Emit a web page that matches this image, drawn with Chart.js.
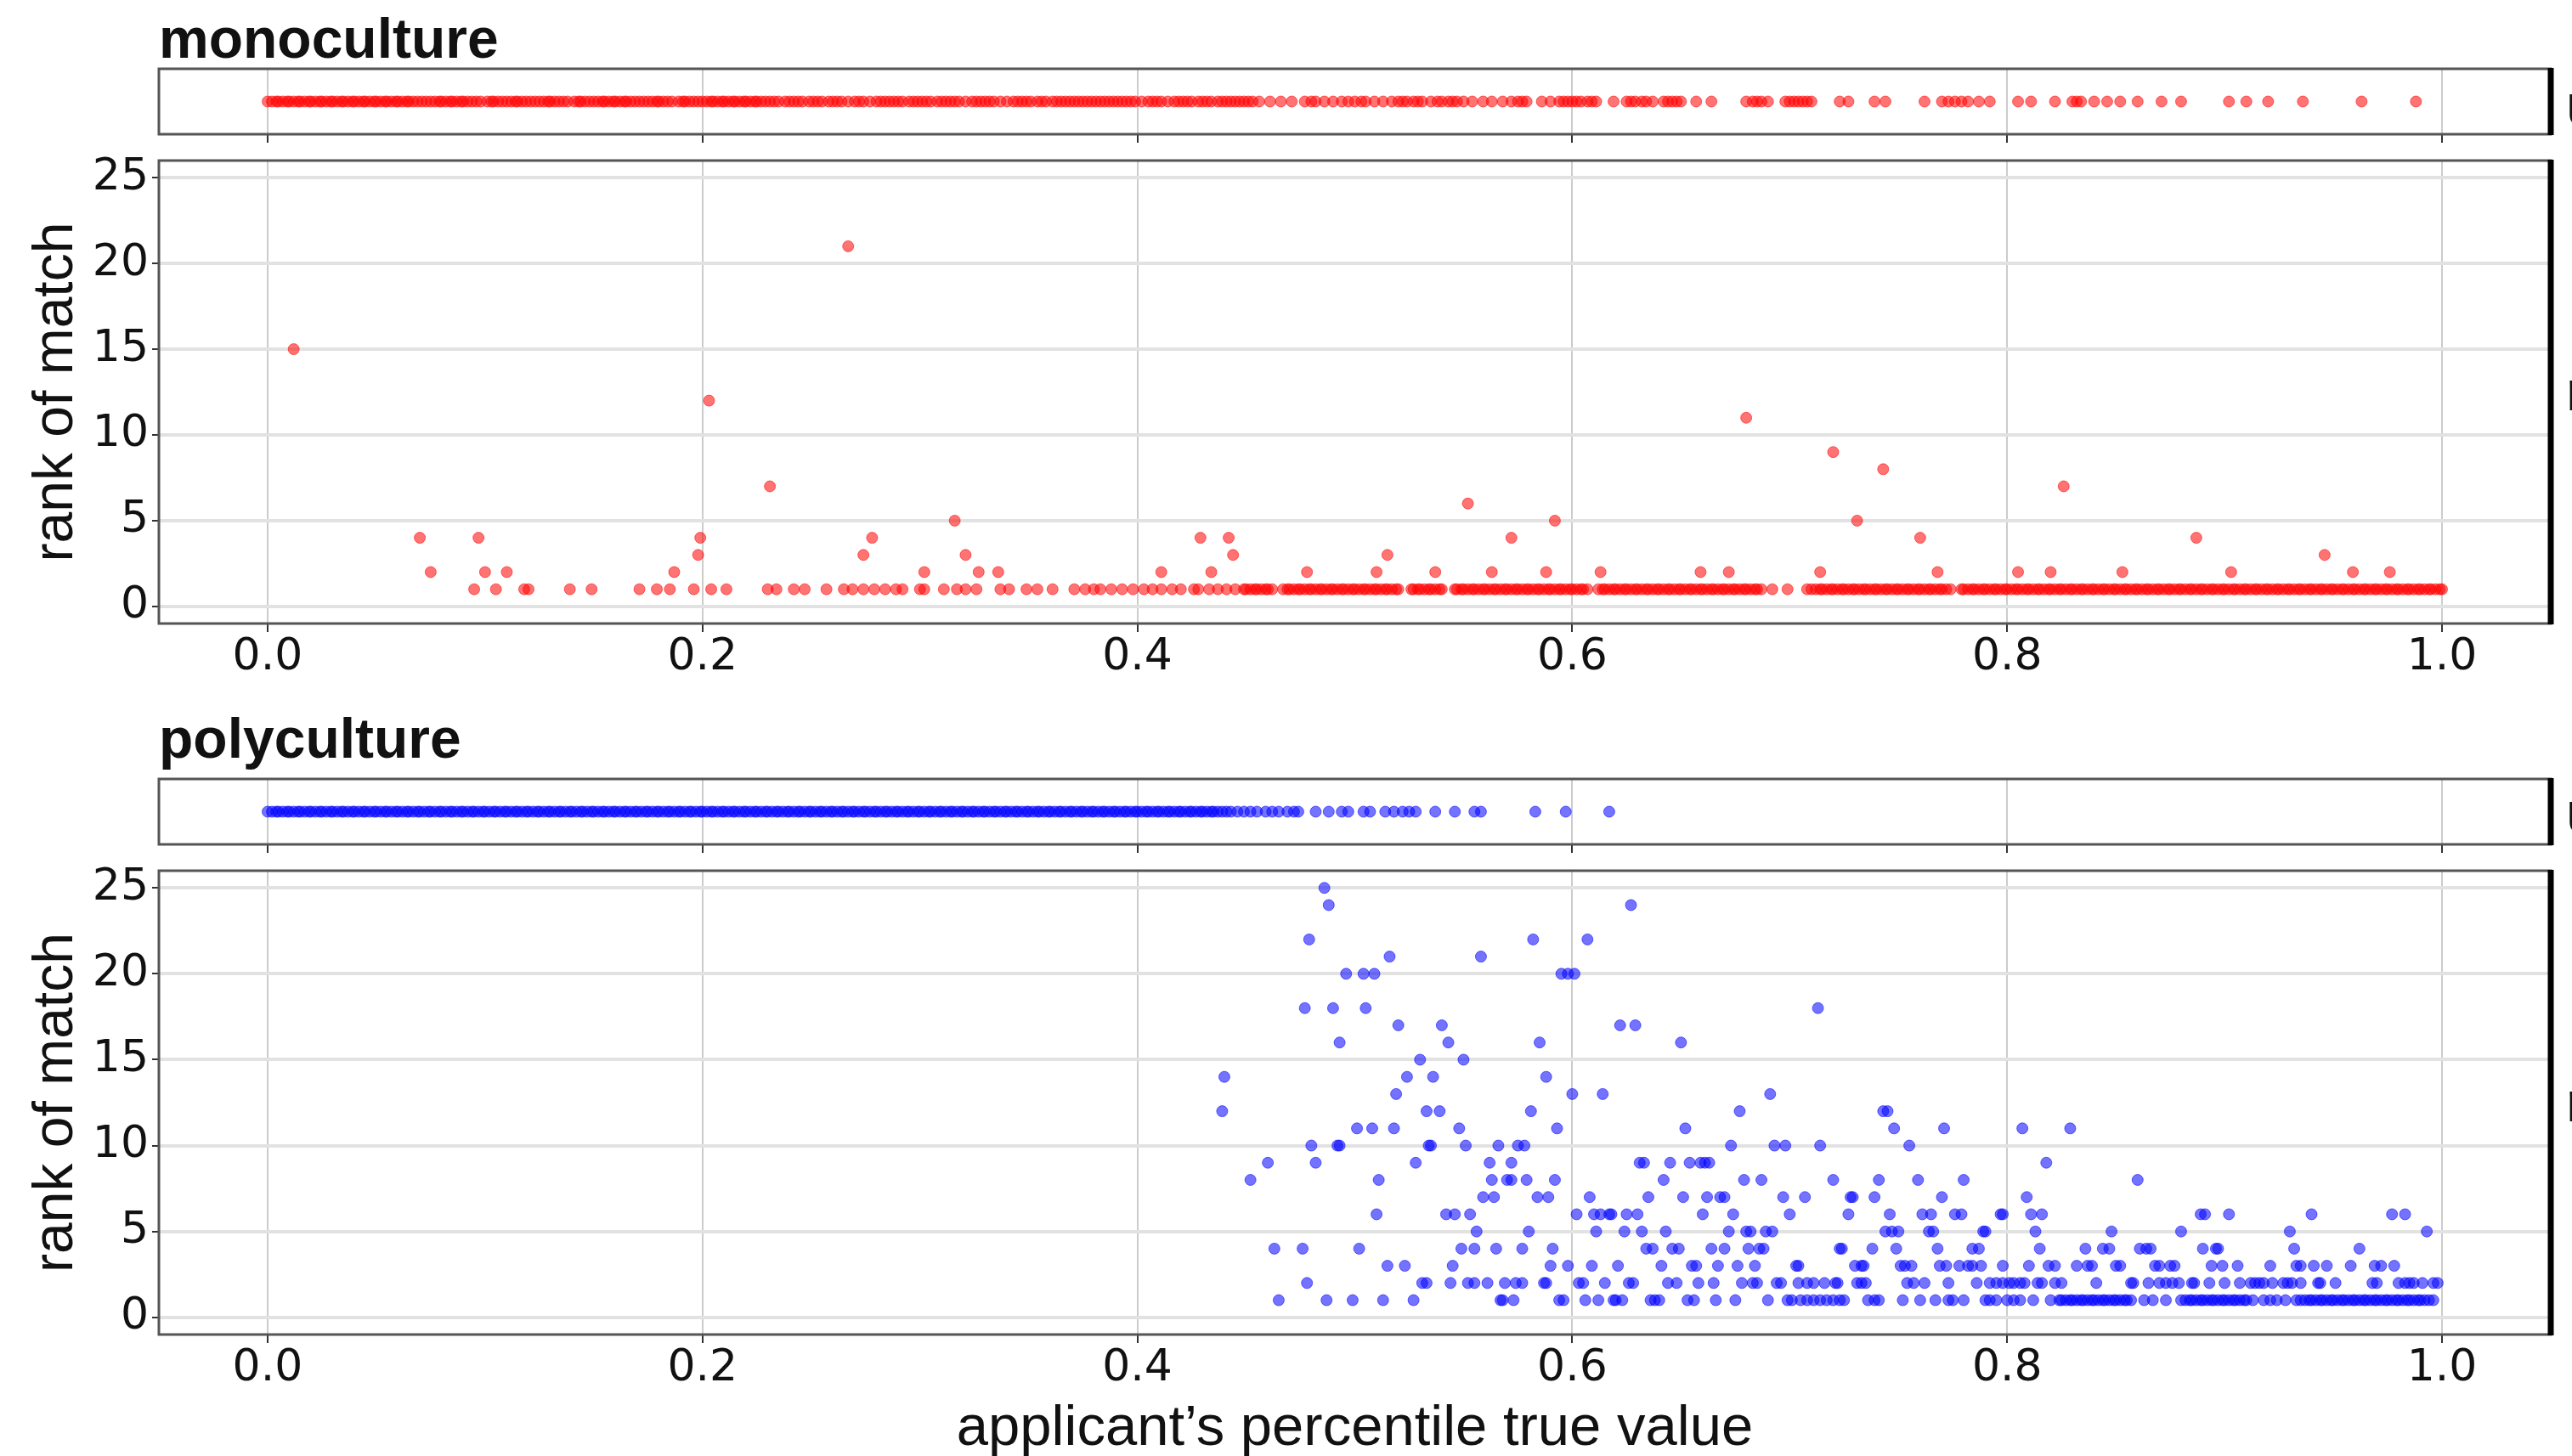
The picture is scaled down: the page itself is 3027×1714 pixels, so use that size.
<!DOCTYPE html>
<html>
<head>
<meta charset="utf-8">
<script src="https://cdn.jsdelivr.net/npm/chart.js@4.4.0/dist/chart.umd.min.js"></script>
<style>
    body { margin: 0; width: 3027px; height: 1714px; position: relative; overflow: hidden; background: #fff; font-family: "Liberation Sans", Arial, sans-serif; color: #111; }
    canvas { position: absolute; left: 0; }
    .panel-title { position: absolute; left: 187px; font-weight: bold; font-size: 66px; line-height: 1; }
    .edge { position: absolute; left: 3020px; font-size: 66px; line-height: 1; }
</style>
</head>
<body>
<div class="panel-title" style="top:12px;">monoculture</div>
<div class="panel-title" style="top:836px;">polyculture</div>
<span class="edge" style="top:90px;">u</span>
<span class="edge" style="top:427px;">r</span>
<span class="edge" style="top:923px;">u</span>
<span class="edge" style="top:1264px;">r</span>

<canvas id="mono-strip" width="3027" height="131" style="top:41px;"></canvas>
<canvas id="mono-main" width="3027" height="665" style="top:149px;"></canvas>
<canvas id="poly-strip" width="3027" height="131" style="top:877px;"></canvas>
<canvas id="poly-main" width="3027" height="729" style="top:985px;"></canvas>

<script>
// tick labels
const xTicks = [0.0, 0.2, 0.4, 0.6, 0.8, 1.0];
const rankTicks = [0, 5, 10, 15, 20, 25];

// monoculture: unmatched applicants (strip)
const monoUnmatched = [
    0.000, 0.002, 0.004, 0.005, 0.007, 0.009, 0.010, 0.012, 0.014, 0.015, 0.017, 0.019,
    0.020, 0.022, 0.024, 0.025, 0.027, 0.029, 0.030, 0.032, 0.034, 0.035, 0.037, 0.039,
    0.040, 0.042, 0.044, 0.045, 0.047, 0.049, 0.050, 0.052, 0.054, 0.055, 0.057, 0.059,
    0.060, 0.062, 0.064, 0.065, 0.067, 0.069, 0.071, 0.073, 0.075, 0.077, 0.079, 0.080,
    0.082, 0.084, 0.085, 0.087, 0.089, 0.090, 0.092, 0.094, 0.096, 0.098, 0.101, 0.103,
    0.104, 0.106, 0.108, 0.110, 0.112, 0.114, 0.115, 0.117, 0.119, 0.121, 0.123, 0.125,
    0.127, 0.129, 0.130, 0.132, 0.134, 0.136, 0.138, 0.141, 0.143, 0.144, 0.146, 0.148,
    0.150, 0.152, 0.154, 0.155, 0.157, 0.159, 0.160, 0.162, 0.164, 0.165, 0.167, 0.169,
    0.171, 0.173, 0.175, 0.177, 0.179, 0.180, 0.182, 0.184, 0.186, 0.189, 0.191, 0.192,
    0.194, 0.196, 0.198, 0.200, 0.202, 0.204, 0.205, 0.207, 0.209, 0.210, 0.212, 0.214,
    0.215, 0.217, 0.219, 0.220, 0.222, 0.224, 0.225, 0.227, 0.229, 0.231, 0.233, 0.235,
    0.238, 0.240, 0.242, 0.244, 0.246, 0.249, 0.251, 0.253, 0.255, 0.258, 0.260, 0.262,
    0.264, 0.267, 0.270, 0.272, 0.274, 0.277, 0.280, 0.282, 0.284, 0.286, 0.288, 0.290,
    0.292, 0.295, 0.297, 0.299, 0.301, 0.303, 0.305, 0.308, 0.310, 0.312, 0.314, 0.316,
    0.318, 0.321, 0.324, 0.326, 0.328, 0.330, 0.332, 0.334, 0.337, 0.340, 0.343, 0.345,
    0.347, 0.349, 0.351, 0.354, 0.356, 0.358, 0.361, 0.363, 0.365, 0.367, 0.369, 0.371,
    0.373, 0.375, 0.377, 0.379, 0.381, 0.383, 0.385, 0.387, 0.389, 0.391, 0.393, 0.395,
    0.397, 0.399, 0.402, 0.405, 0.407, 0.409, 0.411, 0.414, 0.417, 0.419, 0.421, 0.423,
    0.425, 0.428, 0.430, 0.432, 0.434, 0.437, 0.439, 0.441, 0.443, 0.445, 0.447, 0.449,
    0.451, 0.453, 0.456, 0.461, 0.466, 0.471, 0.477, 0.480, 0.482, 0.486, 0.490, 0.494,
    0.497, 0.500, 0.503, 0.505, 0.509, 0.513, 0.517, 0.520, 0.522, 0.524, 0.527, 0.529,
    0.531, 0.535, 0.538, 0.540, 0.543, 0.545, 0.547, 0.550, 0.554, 0.559, 0.563, 0.568,
    0.572, 0.575, 0.577, 0.579, 0.586, 0.590, 0.594, 0.596, 0.598, 0.600, 0.602, 0.604,
    0.607, 0.609, 0.611, 0.619, 0.625, 0.627, 0.629, 0.632, 0.634, 0.637, 0.642, 0.644,
    0.646, 0.648, 0.650, 0.657, 0.664, 0.680, 0.683, 0.685, 0.687, 0.690, 0.698, 0.700,
    0.702, 0.704, 0.706, 0.708, 0.710, 0.723, 0.727, 0.739, 0.744, 0.762, 0.770, 0.773,
    0.776, 0.779, 0.782, 0.787, 0.792, 0.805, 0.811, 0.822, 0.830, 0.832, 0.834, 0.840,
    0.846, 0.852, 0.860, 0.871, 0.880, 0.902, 0.910, 0.920, 0.936, 0.963, 0.988
];

// monoculture: matched applicants by rank
const monoRank1 = [
    0.095, 0.105, 0.118, 0.120, 0.139, 0.149, 0.171, 0.179, 0.185, 0.196, 0.204, 0.211,
    0.230, 0.234, 0.242, 0.247, 0.257, 0.265, 0.269, 0.274, 0.279, 0.284, 0.289, 0.292,
    0.300, 0.302, 0.311, 0.317, 0.321, 0.326, 0.337, 0.341, 0.349, 0.354, 0.361, 0.371,
    0.376, 0.380, 0.383, 0.388, 0.393, 0.398, 0.403, 0.407, 0.411, 0.416, 0.420, 0.426,
    0.428, 0.433, 0.437, 0.441, 0.445, 0.449, 0.450, 0.452, 0.454, 0.455, 0.457, 0.459,
    0.460, 0.462, 0.467, 0.469, 0.470, 0.472, 0.474, 0.475, 0.477, 0.479, 0.480, 0.482,
    0.484, 0.485, 0.487, 0.489, 0.490, 0.492, 0.494, 0.495, 0.497, 0.499, 0.500, 0.502,
    0.504, 0.505, 0.507, 0.509, 0.510, 0.512, 0.514, 0.515, 0.517, 0.519, 0.520, 0.526,
    0.527, 0.529, 0.530, 0.532, 0.534, 0.535, 0.537, 0.539, 0.540, 0.546, 0.547, 0.549,
    0.550, 0.552, 0.554, 0.555, 0.557, 0.559, 0.560, 0.562, 0.564, 0.565, 0.567, 0.569,
    0.570, 0.572, 0.574, 0.575, 0.577, 0.579, 0.580, 0.582, 0.584, 0.585, 0.587, 0.589,
    0.590, 0.592, 0.594, 0.595, 0.597, 0.599, 0.600, 0.602, 0.604, 0.605, 0.607, 0.612,
    0.614, 0.615, 0.617, 0.619, 0.620, 0.622, 0.624, 0.625, 0.627, 0.629, 0.630, 0.632,
    0.634, 0.635, 0.637, 0.639, 0.640, 0.642, 0.644, 0.645, 0.647, 0.649, 0.650, 0.652,
    0.654, 0.655, 0.657, 0.659, 0.660, 0.662, 0.664, 0.665, 0.667, 0.669, 0.670, 0.672,
    0.674, 0.675, 0.677, 0.679, 0.680, 0.682, 0.684, 0.685, 0.687, 0.692, 0.699, 0.708,
    0.710, 0.712, 0.714, 0.715, 0.717, 0.719, 0.720, 0.722, 0.724, 0.725, 0.727, 0.729,
    0.730, 0.732, 0.734, 0.735, 0.737, 0.739, 0.740, 0.742, 0.744, 0.745, 0.747, 0.749,
    0.750, 0.752, 0.754, 0.755, 0.757, 0.759, 0.760, 0.762, 0.764, 0.765, 0.767, 0.769,
    0.770, 0.772, 0.774, 0.779, 0.780, 0.782, 0.784, 0.785, 0.787, 0.789, 0.790, 0.792,
    0.794, 0.795, 0.797, 0.799, 0.800, 0.802, 0.804, 0.805, 0.807, 0.809, 0.810, 0.812,
    0.814, 0.815, 0.817, 0.819, 0.820, 0.822, 0.824, 0.825, 0.827, 0.829, 0.830, 0.832,
    0.834, 0.835, 0.837, 0.839, 0.840, 0.842, 0.844, 0.845, 0.847, 0.849, 0.850, 0.852,
    0.854, 0.855, 0.857, 0.859, 0.860, 0.862, 0.864, 0.865, 0.867, 0.869, 0.870, 0.872,
    0.874, 0.875, 0.877, 0.879, 0.880, 0.882, 0.884, 0.885, 0.887, 0.889, 0.890, 0.892,
    0.894, 0.895, 0.897, 0.899, 0.900, 0.902, 0.904, 0.905, 0.907, 0.909, 0.910, 0.912,
    0.914, 0.915, 0.917, 0.919, 0.920, 0.922, 0.924, 0.925, 0.927, 0.929, 0.930, 0.932,
    0.934, 0.935, 0.937, 0.939, 0.940, 0.942, 0.944, 0.945, 0.947, 0.949, 0.950, 0.952,
    0.954, 0.955, 0.957, 0.959, 0.960, 0.962, 0.964, 0.965, 0.967, 0.969, 0.970, 0.972,
    0.974, 0.975, 0.977, 0.979, 0.980, 0.982, 0.984, 0.985, 0.987, 0.989, 0.990, 0.992,
    0.994, 0.995, 0.997, 0.999, 1.000
];
const monoRank2 = [
    0.075, 0.100, 0.110, 0.187, 0.302, 0.327, 0.336, 0.411, 0.434, 0.478, 0.510, 0.537, 0.563, 0.588, 0.613,
    0.659, 0.672, 0.714, 0.768, 0.805, 0.820, 0.853, 0.903, 0.959, 0.976
];
const monoRank3 = [0.198, 0.274, 0.321, 0.444, 0.515, 0.946];
const monoRank4 = [0.070, 0.097, 0.199, 0.278, 0.429, 0.442, 0.572, 0.760, 0.887];
const monoRank5 = [0.316, 0.592, 0.731];
const monoHighX = [0.552, 0.231, 0.826, 0.743, 0.720, 0.680, 0.203, 0.012, 0.267];
const monoHighRank = [6, 7, 7, 8, 9, 11, 12, 15, 21];

// polyculture: unmatched applicants (strip)
const polyUnmatched = [
    0.000, 0.002, 0.004, 0.005, 0.007, 0.009, 0.010, 0.012, 0.014, 0.015, 0.017, 0.019,
    0.020, 0.022, 0.024, 0.025, 0.027, 0.029, 0.030, 0.032, 0.034, 0.035, 0.037, 0.039,
    0.040, 0.042, 0.044, 0.045, 0.047, 0.049, 0.050, 0.052, 0.054, 0.055, 0.057, 0.059,
    0.060, 0.062, 0.064, 0.065, 0.067, 0.069, 0.070, 0.072, 0.074, 0.075, 0.077, 0.079,
    0.080, 0.082, 0.084, 0.085, 0.087, 0.089, 0.090, 0.092, 0.094, 0.095, 0.097, 0.099,
    0.100, 0.102, 0.104, 0.105, 0.107, 0.109, 0.110, 0.112, 0.114, 0.115, 0.117, 0.119,
    0.120, 0.122, 0.124, 0.125, 0.127, 0.129, 0.130, 0.132, 0.134, 0.135, 0.137, 0.139,
    0.140, 0.142, 0.144, 0.145, 0.147, 0.149, 0.150, 0.152, 0.154, 0.155, 0.157, 0.159,
    0.160, 0.162, 0.164, 0.165, 0.167, 0.169, 0.170, 0.172, 0.174, 0.175, 0.177, 0.179,
    0.180, 0.182, 0.184, 0.185, 0.187, 0.189, 0.190, 0.192, 0.194, 0.195, 0.197, 0.199,
    0.200, 0.202, 0.204, 0.205, 0.207, 0.209, 0.210, 0.212, 0.214, 0.215, 0.217, 0.219,
    0.220, 0.222, 0.224, 0.225, 0.227, 0.229, 0.230, 0.232, 0.234, 0.235, 0.237, 0.239,
    0.240, 0.242, 0.244, 0.245, 0.247, 0.249, 0.250, 0.252, 0.254, 0.255, 0.257, 0.259,
    0.260, 0.262, 0.264, 0.265, 0.267, 0.269, 0.270, 0.272, 0.274, 0.275, 0.277, 0.279,
    0.280, 0.282, 0.284, 0.285, 0.287, 0.289, 0.290, 0.292, 0.294, 0.295, 0.297, 0.299,
    0.300, 0.302, 0.304, 0.305, 0.307, 0.309, 0.310, 0.312, 0.314, 0.315, 0.317, 0.319,
    0.320, 0.322, 0.324, 0.325, 0.327, 0.329, 0.330, 0.332, 0.334, 0.335, 0.337, 0.339,
    0.340, 0.342, 0.344, 0.345, 0.347, 0.349, 0.350, 0.352, 0.354, 0.355, 0.357, 0.359,
    0.360, 0.362, 0.364, 0.365, 0.367, 0.369, 0.370, 0.372, 0.374, 0.375, 0.377, 0.379,
    0.380, 0.382, 0.384, 0.385, 0.387, 0.389, 0.390, 0.392, 0.394, 0.395, 0.397, 0.399,
    0.400, 0.402, 0.404, 0.405, 0.407, 0.409, 0.410, 0.412, 0.414, 0.415, 0.417, 0.419,
    0.420, 0.422, 0.424, 0.425, 0.427, 0.429, 0.430, 0.432, 0.434, 0.435, 0.437, 0.439,
    0.441, 0.443, 0.446, 0.449, 0.452, 0.455, 0.459, 0.462, 0.465, 0.469, 0.472, 0.474,
    0.482, 0.488, 0.494, 0.497, 0.504, 0.507, 0.514, 0.518, 0.522, 0.525, 0.528, 0.537,
    0.546, 0.555, 0.558, 0.583, 0.597, 0.617
];

// polyculture: matched applicants by rank
const polyRank1 = [
    0.465, 0.487, 0.499, 0.513, 0.527, 0.567, 0.568, 0.573, 0.594, 0.596, 0.606, 0.612,
    0.619, 0.620, 0.623, 0.636, 0.638, 0.640, 0.653, 0.656, 0.666, 0.675, 0.690, 0.699,
    0.701, 0.705, 0.708, 0.711, 0.714, 0.717, 0.720, 0.723, 0.725, 0.736, 0.739, 0.741,
    0.752, 0.760, 0.767, 0.773, 0.775, 0.780, 0.790, 0.792, 0.795, 0.800, 0.803, 0.806,
    0.812, 0.820, 0.824, 0.825, 0.827, 0.829, 0.830, 0.832, 0.834, 0.835, 0.837, 0.839,
    0.840, 0.842, 0.844, 0.845, 0.847, 0.849, 0.850, 0.852, 0.854, 0.855, 0.857, 0.863,
    0.867, 0.873, 0.880, 0.882, 0.884, 0.885, 0.887, 0.889, 0.890, 0.892, 0.894, 0.895,
    0.897, 0.899, 0.900, 0.902, 0.904, 0.905, 0.907, 0.909, 0.910, 0.913, 0.918, 0.921,
    0.924, 0.928, 0.933, 0.935, 0.937, 0.939, 0.940, 0.942, 0.944, 0.945, 0.947, 0.949,
    0.950, 0.952, 0.954, 0.955, 0.957, 0.959, 0.960, 0.962, 0.964, 0.965, 0.967, 0.969,
    0.970, 0.972, 0.974, 0.975, 0.977, 0.979, 0.980, 0.982, 0.984, 0.985, 0.987, 0.989,
    0.990, 0.992, 0.994, 0.996
];
const polyRank2 = [
    0.478, 0.531, 0.533, 0.544, 0.552, 0.555, 0.561, 0.569, 0.574, 0.577, 0.587, 0.588, 0.603, 0.605, 0.615,
    0.626, 0.628, 0.644, 0.648, 0.658, 0.665, 0.678, 0.683, 0.685, 0.694, 0.696, 0.704, 0.708, 0.711, 0.716,
    0.721, 0.722, 0.731, 0.733, 0.735, 0.754, 0.757, 0.762, 0.773, 0.786, 0.792, 0.795, 0.798, 0.801, 0.803,
    0.806, 0.808, 0.814, 0.816, 0.822, 0.825, 0.841, 0.857, 0.858, 0.865, 0.870, 0.873, 0.876, 0.879, 0.885,
    0.886, 0.893, 0.900, 0.907, 0.912, 0.914, 0.916, 0.918, 0.922, 0.927, 0.929, 0.931, 0.935, 0.943, 0.944,
    0.951, 0.968, 0.970, 0.980, 0.983, 0.985, 0.987, 0.991, 0.996, 0.998
];
const polyRank3 = [
    0.515, 0.523, 0.545, 0.590, 0.598, 0.609, 0.621, 0.641, 0.655, 0.657, 0.667, 0.676, 0.684, 0.703, 0.704,
    0.730, 0.733, 0.734, 0.751, 0.753, 0.756, 0.769, 0.772, 0.778, 0.782, 0.784, 0.788, 0.798, 0.810, 0.819,
    0.822, 0.832, 0.837, 0.839, 0.850, 0.852, 0.868, 0.870, 0.875, 0.877, 0.894, 0.899, 0.906, 0.921, 0.933,
    0.935, 0.941, 0.947, 0.958, 0.969, 0.972, 0.978
];
const polyRank4 = [
    0.463, 0.476, 0.502, 0.549, 0.555, 0.565, 0.577, 0.591, 0.634, 0.637, 0.646, 0.649, 0.664, 0.670, 0.681,
    0.686, 0.688, 0.723, 0.724, 0.738, 0.749, 0.768, 0.784, 0.787, 0.815, 0.836, 0.844, 0.847, 0.861, 0.864,
    0.866, 0.890, 0.896, 0.897, 0.932, 0.962
];
const polyRank5 = [
    0.556, 0.580, 0.611, 0.624, 0.632, 0.643, 0.672, 0.680, 0.682, 0.689, 0.692, 0.744, 0.747, 0.750, 0.764,
    0.766, 0.789, 0.790, 0.813, 0.848, 0.880, 0.930, 0.993
];
const polyRank6 = [
    0.510, 0.542, 0.546, 0.553, 0.602, 0.610, 0.613, 0.617, 0.618, 0.625, 0.630, 0.660, 0.674, 0.700, 0.727,
    0.746, 0.761, 0.765, 0.776, 0.779, 0.797, 0.798, 0.811, 0.816, 0.889, 0.891, 0.902, 0.940, 0.977, 0.983
];
const polyRank7 = [
    0.559, 0.564, 0.584, 0.589, 0.608, 0.635, 0.651, 0.662, 0.668, 0.670, 0.697, 0.707, 0.728, 0.729, 0.739,
    0.770, 0.809
];
const polyRank8 = [
    0.452, 0.511, 0.563, 0.570, 0.572, 0.579, 0.592, 0.642, 0.679, 0.687, 0.720, 0.741, 0.759, 0.780, 0.860
];
const polyRank9 = [0.460, 0.482, 0.528, 0.562, 0.572, 0.631, 0.633, 0.645, 0.654, 0.659, 0.661, 0.663, 0.818];
const polyRank10 = [0.480, 0.492, 0.493, 0.534, 0.535, 0.551, 0.566, 0.575, 0.578, 0.673, 0.693, 0.698, 0.714, 0.755];
const polyRank11 = [0.501, 0.508, 0.518, 0.548, 0.593, 0.652, 0.748, 0.771, 0.807, 0.829];
const polyRank12 = [0.439, 0.533, 0.539, 0.581, 0.677, 0.743, 0.745];
const polyRank13 = [0.519, 0.600, 0.614, 0.691];
const polyRank14 = [0.440, 0.524, 0.536, 0.588];
const polyRank15 = [0.530, 0.550];
const polyRank16 = [0.493, 0.543, 0.585, 0.650];
const polyRank17 = [0.520, 0.540, 0.622, 0.629];
const polyRank18 = [0.477, 0.490, 0.505, 0.713];
const polyRank20 = [0.496, 0.504, 0.509, 0.595, 0.598, 0.601];
const polyRank21 = [0.516, 0.558];
const polyRank22 = [0.479, 0.582, 0.607];
const polyRank24 = [0.488, 0.627];
const polyRank25 = [0.486];

const RED = 'rgba(255, 0, 0, 0.55)';
const BLUE = 'rgba(0, 0, 255, 0.55)';

function rowPoints(xs, rank) {
    return xs.map(x => ({ x: x, y: rank }));
}

function scatterSet(points, color) {
    return {
        data: points,
        pointBackgroundColor: color,
        pointBorderColor: color,
        pointBorderWidth: 1,
        pointRadius: 6.5,
        pointHoverRadius: 6.5
    };
}

// box round the plot, right spine drawn heavier
const framePlugin = {
    id: 'frame',
    afterDraw(chart) {
        const { ctx, chartArea: a } = chart;
        ctx.save();
        ctx.strokeStyle = '#555';
        ctx.lineWidth = 3;
        ctx.strokeRect(a.left, a.top, a.right - a.left, a.bottom - a.top);
        ctx.strokeStyle = '#000';
        ctx.lineWidth = 7;
        ctx.beginPath();
        ctx.moveTo(a.right, a.top - 1);
        ctx.lineTo(a.right, a.bottom + 1);
        ctx.stroke();
        ctx.restore();
    }
};

const tickFont = { family: 'DejaVu Sans', size: 52, lineHeight: 1.0 };
const yLabelFont = { family: 'Liberation Sans', size: 66, lineHeight: 1.1 };
const xLabelFont = { family: 'Liberation Sans', size: 67, lineHeight: 0.95 };

function xScale(showLabels, axisHeight, title) {
    return {
        type: 'linear',
        min: -0.05,
        max: 1.05,
        afterBuildTicks: s => { s.ticks = xTicks.map(v => ({ value: v })); },
        afterFit: s => { s.height = axisHeight; },
        grid: { color: '#cccccc', lineWidth: 2, tickLength: 10, tickColor: '#333', tickWidth: 2 },
        border: { display: false },
        ticks: {
            display: showLabels,
            font: tickFont,
            color: '#111',
            padding: 4,
            maxRotation: 0,
            autoSkip: false,
            callback: v => v.toFixed(1)
        },
        title: title ? { display: true, text: title, font: xLabelFont, color: '#111', padding: { top: 0, bottom: 0 } } : { display: false }
    };
}

function makeStrip(id, xs, color) {
    new Chart(document.getElementById(id), {
        type: 'scatter',
        data: { datasets: [scatterSet(rowPoints(xs, 0), color)] },
        options: {
            responsive: false,
            animation: false,
            devicePixelRatio: 1,
            layout: { padding: { top: 40, right: 25, left: 0, bottom: 0 } },
            plugins: { legend: { display: false }, tooltip: { enabled: false } },
            scales: {
                x: xScale(false, 14, null),
                y: {
                    min: -1,
                    max: 1,
                    afterFit: s => { s.width = 187; },
                    grid: { display: false },
                    border: { display: false },
                    ticks: { display: false }
                }
            }
        },
        plugins: [framePlugin]
    });
}

function makeMain(id, datasets, axisHeight, xTitle) {
    new Chart(document.getElementById(id), {
        type: 'scatter',
        data: { datasets: datasets },
        options: {
            responsive: false,
            animation: false,
            devicePixelRatio: 1,
            layout: { padding: { top: 40, right: 25, left: 0, bottom: 0 } },
            plugins: { legend: { display: false }, tooltip: { enabled: false } },
            scales: {
                x: xScale(true, axisHeight, xTitle),
                y: {
                    min: -1,
                    max: 26,
                    afterBuildTicks: s => { s.ticks = rankTicks.map(v => ({ value: v })); },
                    afterFit: s => { s.width = 187; },
                    grid: { color: '#e2e2e2', lineWidth: 4, tickLength: 8, tickColor: '#333', tickWidth: 2 },
                    border: { display: false },
                    ticks: { font: tickFont, color: '#111', padding: 4 },
                    title: { display: true, text: 'rank of match', font: yLabelFont, color: '#111', padding: { top: 30, bottom: 0 } }
                }
            }
        },
        plugins: [framePlugin]
    });
}

const monoPoints = [].concat(
    rowPoints(monoRank1, 1),
    rowPoints(monoRank2, 2),
    rowPoints(monoRank3, 3),
    rowPoints(monoRank4, 4),
    rowPoints(monoRank5, 5),
    monoHighX.map((x, i) => ({ x: x, y: monoHighRank[i] }))
);

const polyRows = [
    [polyRank1, 1], [polyRank2, 2], [polyRank3, 3], [polyRank4, 4], [polyRank5, 5], [polyRank6, 6],
    [polyRank7, 7], [polyRank8, 8], [polyRank9, 9], [polyRank10, 10], [polyRank11, 11], [polyRank12, 12],
    [polyRank13, 13], [polyRank14, 14], [polyRank15, 15], [polyRank16, 16], [polyRank17, 17], [polyRank18, 18],
    [polyRank20, 20], [polyRank21, 21], [polyRank22, 22], [polyRank24, 24], [polyRank25, 25]
];
const polyPoints = [].concat(...polyRows.map(r => rowPoints(r[0], r[1])));

makeStrip('mono-strip', monoUnmatched, RED);
makeMain('mono-main', [scatterSet(monoPoints, RED)], 80, null);
makeStrip('poly-strip', polyUnmatched, BLUE);
makeMain('poly-main', [scatterSet(polyPoints, BLUE)], 143, 'applicant\u2019s percentile true value');
</script>
</body>
</html>
